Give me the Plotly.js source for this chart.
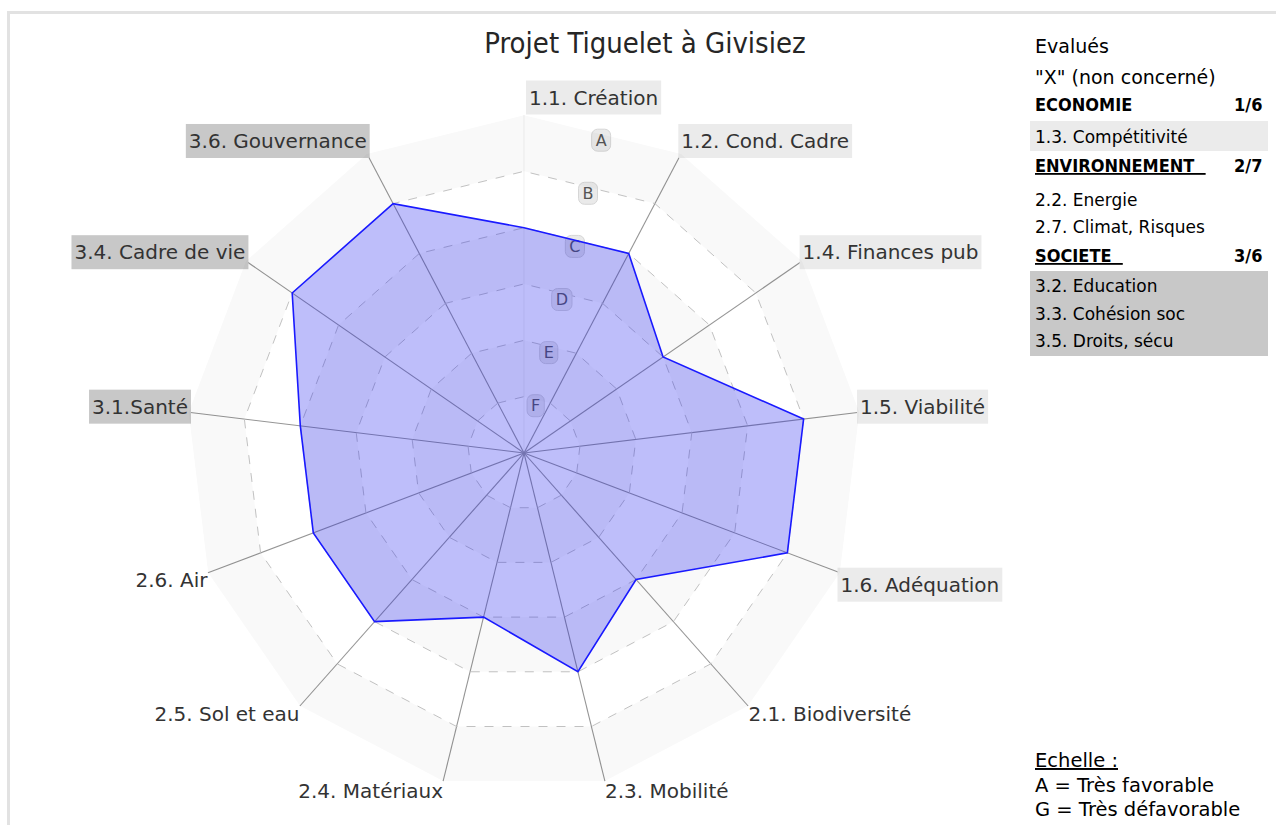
<!DOCTYPE html>
<html>
<head>
<meta charset="utf-8">
<script src="https://cdn.plot.ly/plotly-3.0.1.min.js"></script>
<style>
  html, body { margin: 0; padding: 0; background: #fff; }
  #chart { width: 1276px; height: 825px; }
</style>
</head>
<body>
<div id="chart"></div>
<script>
// ---- data ----
const categories = ['1.1. Création', '1.2. Cond. Cadre', '1.4. Finances pub', '1.5. Viabilité', '1.6. Adéquation',
  '2.1. Biodiversité', '2.3. Mobilité', '2.4. Matériaux', '2.5. Sol et eau', '2.6. Air',
  '3.1.Santé', '3.4. Cadre de vie', '3.6. Gouvernance'];
// scale: G = 0 (très défavorable) ... A = 6 (très favorable)
const scores = [4, 4, 3, 5, 5, 3, 4, 3, 4, 4, 4, 5, 5];
const levelValues = [1, 2, 3, 4, 5, 6];
const levelLabels = ['F', 'E', 'D', 'C', 'B', 'A'];
const shadedBands = [[5, 6], [3, 4], [1, 2]];

const chartTitle = 'Projet Tiguelet à Givisiez';
const sideLines = {
  evalues: 'Evalués',
  nonConcerne: '"X" (non concerné)',
  eco: 'ECONOMIE', ecoCount: '1/6', ecoItems: ['1.3. Compétitivité'],
  env: 'ENVIRONNEMENT', envCount: '2/7', envItems: ['2.2. Energie', '2.7. Climat, Risques'],
  soc: 'SOCIETE', socCount: '3/6', socItems: ['3.2. Education', '3.3. Cohésion soc', '3.5. Droits, sécu']
};
const scaleLines = ['Echelle :', 'A = Très favorable', 'G = Très défavorable'];

// ---- traces ----
const closedCats = categories.concat([categories[0]]);
const traces = [];
shadedBands.forEach(([inner, outer]) => {
  traces.push({
    type: 'scatterpolar', mode: 'none', fill: 'toself',
    fillcolor: 'rgba(0,0,0,0.022)',
    theta: closedCats.concat(closedCats.slice().reverse()),
    r: closedCats.map(() => outer).concat(closedCats.map(() => inner)),
    hoverinfo: 'skip', showlegend: false
  });
});
traces.push({
  type: 'scatterpolar', mode: 'lines', fill: 'toself',
  fillcolor: 'rgba(40,40,240,0.30)',
  line: { color: '#1a1aff', width: 1.6 },
  theta: closedCats,
  r: scores.concat([scores[0]]),
  showlegend: false
});

// ---- annotations ----
const px = (x) => x / 1276, py = (y) => 1 - y / 825;
const baseFont = 'DejaVu Sans, Verdana, sans-serif';
const condFont = 'DejaVu Sans Condensed, DejaVu Sans, sans-serif';
const annotations = [];
function addText(text, x, y, size, opts) {
  annotations.push(Object.assign({
    text: text, xref: 'paper', yref: 'paper', x: px(x), y: py(y),
    xanchor: 'left', yanchor: 'middle', showarrow: false,
    font: { family: baseFont, size: size, color: '#000' }
  }, opts || {}));
}
const hdrFont = { family: condFont, size: 18, color: '#000' };
addText(sideLines.evalues, 1033, 46, 19);
addText(sideLines.nonConcerne, 1033, 77, 19);
addText('<b>' + sideLines.eco + '</b>', 1033, 105, 18, { font: hdrFont });
addText('<b>' + sideLines.ecoCount + '</b>', 1264, 105, 18, { xanchor: 'right', font: hdrFont });
sideLines.ecoItems.forEach((t, i) => addText(t, 1033, 137 + i * 27, 17));
addText('<b><u>' + sideLines.env + '\u00a0\u00a0</u></b>', 1033, 166, 18, { font: hdrFont });
addText('<b>' + sideLines.envCount + '</b>', 1264, 166, 18, { xanchor: 'right', font: hdrFont });
sideLines.envItems.forEach((t, i) => addText(t, 1033, 200 + i * 27, 17));
addText('<b><u>' + sideLines.soc + '\u00a0\u00a0</u></b>', 1033, 255, 18, { font: hdrFont });
addText('<b>' + sideLines.socCount + '</b>', 1264, 255, 18, { xanchor: 'right', font: hdrFont });
sideLines.socItems.forEach((t, i) => addText(t, 1033, 286 + i * 27.5, 17));
addText('<u>' + scaleLines[0] + '</u>', 1033, 760, 19.5);
addText(scaleLines[1], 1033, 785, 19.5);
addText(scaleLines[2], 1033, 809, 19.5);

const shapes = [
  { type: 'rect', xref: 'paper', yref: 'paper', x0: px(1030), x1: px(1268), y0: py(151), y1: py(121), fillcolor: '#ebebeb', line: { width: 0 }, layer: 'below' },
  { type: 'rect', xref: 'paper', yref: 'paper', x0: px(1030), x1: px(1268), y0: py(356), y1: py(271), fillcolor: '#c8c8c8', line: { width: 0 }, layer: 'below' },
  { type: 'line', xref: 'paper', yref: 'paper', x0: px(7), x1: 1, y0: py(12.5), y1: py(12.5), line: { color: '#e2e2e2', width: 3 } },
  { type: 'line', xref: 'paper', yref: 'paper', x0: px(8.5), x1: px(8.5), y0: py(12.5), y1: 0, line: { color: '#e2e2e2', width: 3 } }
];

const layout = {
  width: 1276, height: 825,
  margin: { l: 0, r: 0, t: 0, b: 0 },
  paper_bgcolor: '#fff',
  showlegend: false,
  title: {
    text: chartTitle, xref: 'paper', yref: 'paper', x: px(645), y: py(43),
    xanchor: 'center', yanchor: 'middle',
    font: { family: condFont, size: 29, color: '#262626' }
  },
  polar: {
    domain: { x: [px(524 - 338), px(524 + 338)], y: [py(453 + 338), py(453 - 338)] },
    gridshape: 'linear',
    bgcolor: '#fff',
    angularaxis: {
      direction: 'clockwise', rotation: 90,
      showline: false, ticks: '',
      gridcolor: '#959595', gridwidth: 1.1,
      tickfont: { family: baseFont, size: 20, color: '#333' },
      layer: 'below traces'
    },
    radialaxis: {
      range: [0, 6], tickmode: 'array', tickvals: levelValues, ticktext: levelLabels,
      showline: false, ticks: '', showticklabels: false,
      gridcolor: '#c4c4c4', griddash: 'dash', gridwidth: 1,
      layer: 'below traces'
    }
  },
  annotations: annotations,
  shapes: shapes
};

const gd = document.getElementById('chart');
Plotly.newPlot(gd, traces, layout, { staticPlot: true }).then(() => {
  const svgNS = 'http://www.w3.org/2000/svg';
  function addRect(parent, before, bb, padX, padY, fill, stroke, rx, tr) {
    const r = document.createElementNS(svgNS, 'rect');
    r.setAttribute('x', bb.x - padX);
    r.setAttribute('y', bb.y - padY);
    r.setAttribute('width', bb.width + 2 * padX);
    r.setAttribute('height', bb.height + 2 * padY);
    r.setAttribute('rx', rx);
    r.setAttribute('fill', fill);
    r.setAttribute('stroke', stroke);
    if (tr) r.setAttribute('transform', tr);
    parent.insertBefore(r, before);
    return r;
  }
  // the spoke of the first category is drawn faint, as in the original
  const spokes = gd.querySelectorAll('.polarlayer .angular-grid path');
  if (spokes.length) spokes[0].style.strokeOpacity = '0.12';

  // angular label nudges and backgrounds
  const nudge = { '1.1. Création': [5, -6], '1.6. Adéquation': [0, 5], '2.6. Air': [0, 0] };
  gd.querySelectorAll('.polarlayer text').forEach((t) => {
    const txt = t.textContent;
    if (categories.indexOf(txt) < 0) return;
    if (txt === categories[0]) t.setAttribute('text-anchor', 'start');
    const d = nudge[txt] || [0, -5];
    t.setAttribute('transform', 'translate(' + d[0] + ',' + d[1] + ') ' + (t.getAttribute('transform') || ''));
    let fill = null;
    if (txt.startsWith('1.')) fill = '#ebebeb';
    else if (txt.startsWith('3.')) fill = '#c8c8c8';
    if (!fill) return;
    addRect(t.parentNode, t, t.getBBox(), 3, 5, fill, 'none', 0, t.getAttribute('transform'));
  });
  // radial level labels (F..A), placed mid-way between the first two spokes, under the data fill
  const sp = gd._fullLayout.polar && gd._fullLayout.polar._subplot;
  const cx = sp ? sp.cx : 524, cy = sp ? sp.cy : 453;
  const radius = sp ? sp.radius : 338;
  const rax = sp && sp.radialAxis;
  const n = categories.length;
  const ang = (90 - 180 / n) * Math.PI / 180;
  const k = Math.cos(Math.PI / n);
  const scLayer = gd.querySelector('.polarlayer .scatterlayer');
  const front = scLayer ? scLayer.parentNode : null;
  const mainSvg = gd.querySelector('.main-svg');
  const grp = document.createElementNS(svgNS, 'g');
  if (front) front.parentNode.insertBefore(grp, front); else mainSvg.appendChild(grp);
  const toLocal = grp.getScreenCTM().inverse().multiply(mainSvg.getScreenCTM());
  levelValues.forEach((v, i) => {
    let rp = rax && rax.c2p ? rax.c2p(v) : radius * v / 6;
    if (!isFinite(rp)) rp = radius * v / 6;
    const dist = rp * k - 6;
    const p = new DOMPoint(cx + dist * Math.cos(ang), cy - dist * Math.sin(ang)).matrixTransform(toLocal);
    const t = document.createElementNS(svgNS, 'text');
    t.setAttribute('x', p.x);
    t.setAttribute('y', p.y);
    t.setAttribute('text-anchor', 'middle');
    t.setAttribute('dominant-baseline', 'central');
    t.setAttribute('font-family', 'DejaVu Sans, sans-serif');
    t.setAttribute('font-size', '16');
    t.setAttribute('fill', '#555');
    t.textContent = levelLabels[i];
    grp.appendChild(t);
    addRect(grp, t, t.getBBox(), 4, 1.5, '#eaeaea', '#d6d6d6', 6, null);
  });
});
</script>
</body>
</html>
